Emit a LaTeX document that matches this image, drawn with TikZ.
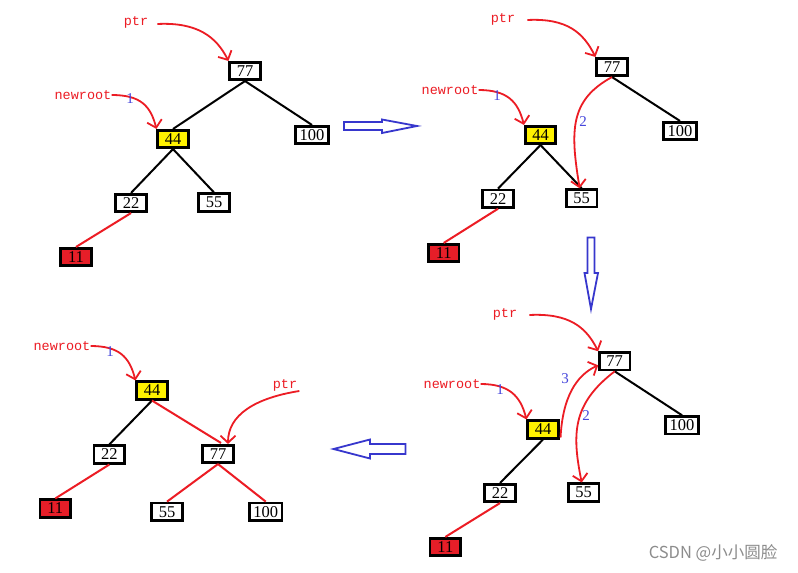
\documentclass[tikz,border=0pt]{standalone}
\usepackage{fontspec}
\setmainfont{Liberation Serif}
\newfontfamily\monof{Liberation Mono}
\newfontfamily\cjk{Noto Sans CJK SC}
\usetikzlibrary{arrows.meta,calc}
\definecolor{myred}{RGB}{236,28,36}
\definecolor{redfill}{RGB}{230,30,40}
\definecolor{myblue}{RGB}{55,55,205}
\definecolor{lblue}{RGB}{70,70,220}
\definecolor{wm}{RGB}{140,140,140}
\tikzset{
  nd/.style={draw=black,line width=2.6pt,fill=white,minimum width=30.5pt,minimum height=17.5pt,inner sep=0pt,font=\fontsize{16.5}{16.5}\selectfont},
  wide/.style={minimum width=32.5pt},
  lbl/.style={inner sep=0pt,text=myred,font=\monof\fontsize{13.5}{13.5}\selectfont},
  num/.style={inner sep=0pt,text=lblue,font=\fontsize{15}{15}\selectfont},
  blk/.style={draw=black,line width=2pt},
  rl/.style={draw=myred,line width=2pt},
  rarr/.style={draw=myred,line width=1.8pt,-{Straight Barb[length=7pt,width=15pt]}},
  bigarr/.style={draw=myblue,line width=1.8pt,line join=miter}
}
\begin{document}
\begin{tikzpicture}[x=1pt,y=-1pt]
\useasboundingbox[fill=white] (0,0) rectangle (798,573);

% ---------- panel 1 ----------
\node[nd] (a77) at (245,71) {77};
\node[nd,fill=yellow] (a44) at (173,139) {44};
\node[nd,wide] (a100) at (312,135) {100};
\node[nd] (a22) at (131,203) {22};
\node[nd] (a55) at (214,202.5) {55};
\node[nd,fill=redfill] (a11) at (76,257) {11};
\draw[blk] (a77.south) -- (a44.north);
\draw[blk] (a77.south) -- (a100.north);
\draw[blk] (a44.south) -- (a22.north);
\draw[blk] (a44.south) -- (a55.north);
\draw[rl] (a22.south) -- (a11.north);
\node[lbl] (aptr) at (136,22) {ptr};
\node[lbl] (anr) at (83,95) {newroot};
\draw[rarr] ($(aptr.east)+(9,2)$) .. controls +(40,-2) and +(-12,-24) .. (a77.north west);
\draw[rarr] (anr.east) .. controls +(28,0) and +(-6,-24) .. (a44.north west);
\node[num] (a1) at (130,99) {1};

% ---------- panel 2 ----------
\node[nd] (b77) at (612,67) {77};
\node[nd,fill=yellow] (b44) at (540.5,135) {44};
\node[nd,wide] (b100) at (680,131) {100};
\node[nd] (b22) at (498,198.7) {22};
\node[nd] (b55) at (581.7,198.3) {55};
\node[nd,fill=redfill] (b11) at (443.7,253) {11};
\draw[blk] (b77.south) -- (b100.north);
\draw[blk] (b44.south) -- (b22.north);
\draw[blk] (b44.south) -- (b55.north);
\draw[rl] (b22.south) -- (b11.north);
\node[lbl] (bptr) at (503,19) {ptr};
\node[lbl] (bnr) at (450,90) {newroot};
\draw[rarr] ($(bptr.east)+(12,1)$) .. controls +(40,-2) and +(-12,-24) .. (b77.north west);
\draw[rarr] (bnr.east) .. controls +(28,0) and +(-6,-24) .. (b44.north west);
\node[num] (b1) at (497,96) {1};
\draw[rarr] (b77.south) .. controls (570,100) and (570,130) .. ($(b55.north)+(-2,0)$);
\node[num] (b2) at (583,122) {2};

% ---------- panel 3 ----------
\node[nd] (c77) at (614.7,361.3) {77};
\node[nd,fill=yellow] (c44) at (543,429.5) {44};
\node[nd,wide] (c100) at (682,425.3) {100};
\node[nd] (c22) at (500,493) {22};
\node[nd] (c55) at (583.7,492.5) {55};
\node[nd,fill=redfill] (c11) at (445.3,547) {11};
\draw[blk] (c77.south) -- (c100.north);
\draw[blk] (c44.south) -- (c22.north);
\draw[rl] (c22.south) -- (c11.north);
\node[lbl] (cptr) at (505,314) {ptr};
\node[lbl] (cnr) at (452,384) {newroot};
\draw[rarr] ($(cptr.east)+(12,1)$) .. controls +(40,-2) and +(-12,-24) .. (c77.north west);
\draw[rarr] (cnr.east) .. controls +(28,0) and +(-6,-24) .. (c44.north west);
\node[num] (c1) at (500,390) {1};
\draw[rarr] (c77.south) .. controls (572,404) and (572,434) .. ($(c55.north)+(-2,0)$);
\node[num] (c2) at (586,416) {2};
\draw[rarr] ($(c44.east)+(1,8)$) .. controls +(2,-40) and +(-22,10) .. ($(c77.west)+(0,4)$);
\node[num] (c3) at (565,379) {3};

% ---------- panel 4 ----------
\node[nd,fill=yellow] (d44) at (152,390.5) {44};
\node[nd] (d22) at (109.3,454.5) {22};
\node[nd] (d77) at (218,454) {77};
\node[nd,fill=redfill] (d11) at (55.3,508.5) {11};
\node[nd] (d55) at (167,511.7) {55};
\node[nd,wide] (d100) at (265.8,511.7) {100};
\draw[blk] (d44.south) -- (d22.north);
\draw[rl] (d44.south) -- ($(d77.north)+(3,-1)$);
\draw[rl] (d22.south) -- (d11.north);
\draw[rl] (d77.south) -- (d55.north);
\draw[rl] (d77.south) -- (d100.north);
\node[lbl] (dnr) at (62,346) {newroot};
\draw[rarr] (dnr.east) .. controls +(28,0) and +(-6,-24) .. (d44.north west);
\node[num] (d1) at (110,352) {1};
\node[lbl] (dptr) at (285,385) {ptr};
\draw[rarr] ($(dptr.east)+(2,6)$) .. controls (255,398) and (228,415) .. ($(d77.north)+(10,0)$);

% ---------- big hollow arrows ----------
\draw[bigarr] (344,122) -- (382,122) -- (382,119.5) -- (417,126) -- (382,133) -- (382,130) -- (344,130) -- cycle;
\draw[bigarr] (587.5,237.5) -- (594.5,237.5) -- (594.5,273) -- (598,273) -- (591,309) -- (584.5,273) -- (587.5,273) -- cycle;
\draw[bigarr] (405.5,444) -- (370,444) -- (370,439.5) -- (333.5,449) -- (370,458.5) -- (370,454) -- (405.5,454) -- cycle;

% ---------- watermark ----------
\node[inner sep=0pt,text=wm,font=\cjk\fontsize{16.5}{16.5}\selectfont] (wmk) at (713,553) {CSDN @小小圆脸};
\end{tikzpicture}
\end{document}
